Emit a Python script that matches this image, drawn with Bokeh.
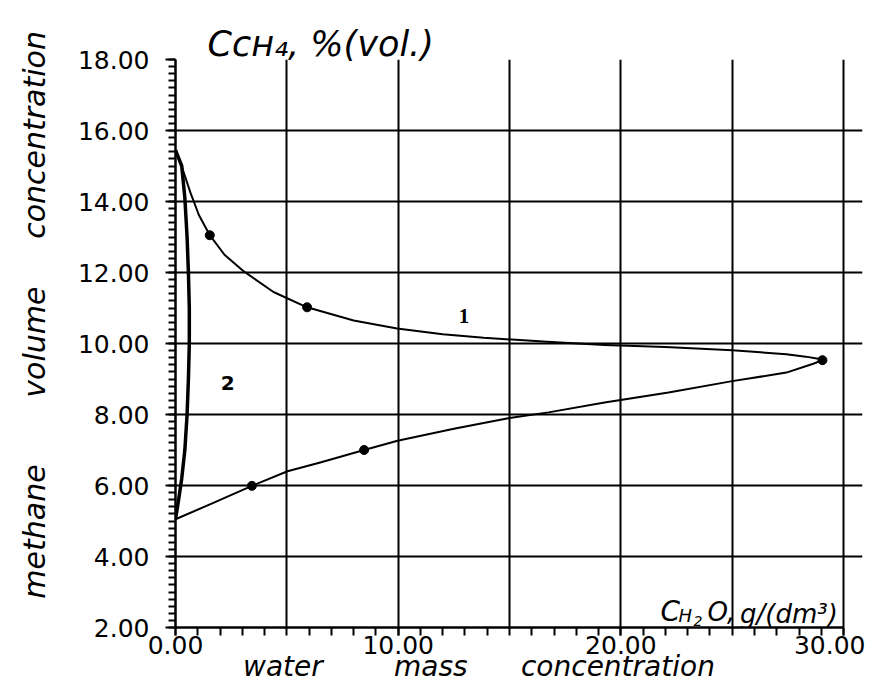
from bokeh.plotting import figure
from bokeh.models import Label, SingleIntervalTicker, Range1d, PrintfTickFormatter
from bokeh.embed import file_html
from bokeh.resources import INLINE

# Curve 1 (closed loop: upper branch then lower branch back to the axis)
c1_x = [0.0, 0.3, 0.67, 1.05, 1.54, 2.2, 3.07, 4.4, 5.91, 8.0, 9.95, 12.0, 13.84,
        16.69, 19.27, 22.0, 25.0, 27.43, 28.3, 28.8, 29.05,
        28.64, 27.43, 25.0, 22.14, 19.27, 16.75, 15.0, 12.5, 9.97, 8.47, 6.5,
        5.03, 3.43, 1.7, 0.0]
c1_y = [15.45, 14.95, 14.25, 13.62, 13.05, 12.5, 12.03, 11.45, 11.02, 10.65, 10.42,
        10.26, 10.16, 10.05, 9.96, 9.9, 9.81, 9.70, 9.63, 9.58, 9.53,
        9.43, 9.18, 8.94, 8.62, 8.34, 8.06, 7.9, 7.6, 7.26, 7.0, 6.65,
        6.40, 5.99, 5.51, 5.05]

# Measured points on curve 1
pt_x = [1.54, 5.91, 29.05, 8.47, 3.43]
pt_y = [13.05, 11.02, 9.53, 7.0, 5.99]

# Curve 2 (thick line near the axis)
c2_x = [0.0, 0.28, 0.42, 0.52, 0.58, 0.62, 0.62, 0.58, 0.52, 0.42, 0.28, 0.14, 0.0]
c2_y = [15.45, 15.0, 14.1, 13.0, 12.0, 11.0, 10.0, 9.0, 8.0, 7.0, 6.2, 5.6, 5.05]

NB = "\u00a0"
hand = "DejaVu Sans"

p = figure(frame_width=687, frame_height=568,
           x_range=Range1d(0, 30.85), y_range=Range1d(2, 18),
           output_backend="svg", toolbar_location=None,
           min_border_left=175, min_border_right=3,
           min_border_top=59, min_border_bottom=53)
p.outline_line_color = None
p.background_fill_color = "white"
p.border_fill_color = "white"

# title  C_CH4, %(vol.)
p.title.text = "C\u1d04\u029c\u2084, %(vol.)"
p.title.align = "left"
p.title.offset = 32
p.title.standoff = -9
p.title.text_font = hand
p.title.text_font_style = "italic"
p.title.text_font_size = "35px"
p.title.text_color = "black"

p.xaxis.ticker = SingleIntervalTicker(interval=10, num_minor_ticks=10)
p.yaxis.ticker = SingleIntervalTicker(interval=2, num_minor_ticks=10)
p.xaxis.bounds = (0, 30)
for ax in (p.xaxis, p.yaxis):
    ax.formatter = PrintfTickFormatter(format="%.2f")
    ax.axis_line_color = "black"
    ax.axis_line_width = 2.5
    ax.major_tick_line_color = "black"
    ax.minor_tick_line_color = "black"
    ax.major_tick_line_width = 2
    ax.minor_tick_line_width = 2
    ax.major_tick_in = 0
    ax.minor_tick_in = 0
    ax.major_label_text_font = "DejaVu Sans"
    ax.major_label_text_font_size = "25px"
    ax.major_label_text_color = "black"
    ax.axis_label_text_font = hand
    ax.axis_label_text_font_style = "italic"
    ax.axis_label_text_color = "black"
p.xaxis.major_tick_out = 8
p.xaxis.minor_tick_out = 8
p.xaxis.major_label_standoff = 0
p.yaxis.major_tick_out = 10
p.yaxis.minor_tick_out = 7
p.yaxis.major_label_standoff = 16

p.yaxis.axis_label = NB * 6 + "methane" + NB * 7 + "volume" + NB * 5 + "concentration"
p.yaxis.axis_label_text_font_size = "30px"
p.yaxis.axis_label_standoff = 23
p.xaxis.axis_label = "water" + NB * 8 + "mass" + NB * 6 + "concentration" + NB * 9
p.xaxis.axis_label_text_font_size = "28px"
p.xaxis.axis_label_standoff = -7

p.xgrid.ticker = SingleIntervalTicker(interval=5)
p.ygrid.ticker = SingleIntervalTicker(interval=2)
for g in (p.xgrid, p.ygrid):
    g.grid_line_color = "black"
    g.grid_line_width = 2
    g.grid_line_alpha = 1.0

p.line(c1_x, c1_y, line_color="black", line_width=2, line_join="round")
p.line(c2_x, c2_y, line_color="black", line_width=3.5, line_join="round")
p.scatter(pt_x, pt_y, size=9, color="black")

def lab(x, y, text, size, style="italic", font=hand, align="left", base="alphabetic"):
    p.add_layout(Label(x=x, y=y, text=text, text_font=font, text_font_size=size,
                       text_font_style=style, text_color="black",
                       text_align=align, text_baseline=base))

# curve numbers
lab(12.95, 10.78, "1", "21px", style="bold", font="Liberation Serif", align="center", base="middle")
lab(2.35, 8.9, "2", "20px", style="bold", align="center", base="middle")

# bottom-right quantity label  C_H2O, g/(dm3)
lab(21.78, 2.44, "C", "28px")
lab(22.59, 2.33, "H", "18px")
lab(23.26, 2.17, "2", "14px")
lab(23.89, 2.44, "O,", "26px")
lab(25.35, 2.39, "g/(dm³)", "26px")

open("out.html", "w").write(file_html(p, INLINE))
